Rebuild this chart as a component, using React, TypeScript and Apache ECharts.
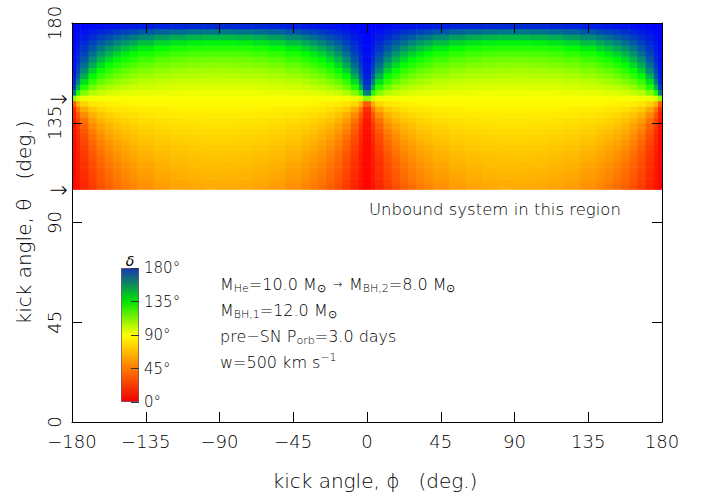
import React, { useEffect, useRef } from "react";
import * as echarts from "echarts";

// φ cell edges (deg) across the full axis (finer near φ = 0, ±180 where δ varies fast)
const phiEdges = [
  -180, -177.5, -175, -170, -165, -160, -155, -150, -145, -140, -130, -120, -110, -100, -90,
  -80, -70, -60, -50, -40, -35, -30, -25, -20, -15, -10, -5, -2.5,
  0, 2.5, 5, 10, 15, 20, 25, 30, 35, 40, 50, 60, 70, 80, 90,
  100, 110, 120, 130, 140, 145, 150, 155, 160, 165, 170, 175, 177.5, 180,
];
// the map is mirror-symmetric in |sin φ|: values read for these folded φ-cell centres
const phiFoldCentres = [1.25, 3.75, 7.5, 12.5, 17.5, 22.5, 27.5, 32.5, 37.5, 45, 55, 65, 75, 85];
// θ cell edges (deg): bound region only
const thetaEdges = [
  105, 107.5, 110, 112.5, 115, 117.5, 120, 122.5, 125, 127.5, 130, 132.5, 135, 137.5, 140, 142.5,
  145, 147.5, 150, 152.5, 155, 157.5, 160, 162.5, 165, 167.5, 170, 172.5, 175, 177.5, 180,
];
// δ (deg) per θ row (bottom → top), per folded φ column
const deltaRows = [
  [2.2, 6.5, 12.9, 20.8, 27.8, 33.9, 39.0, 43.3, 46.9, 51.1, 55.1, 57.8, 59.4, 60.2],
  [2.3, 7.0, 13.7, 22.1, 29.4, 35.6, 40.8, 45.2, 48.8, 52.8, 56.8, 59.4, 61.1, 61.8],
  [2.5, 7.5, 14.7, 23.5, 31.1, 37.5, 42.8, 47.2, 50.7, 54.8, 58.7, 61.2, 62.7, 63.4],
  [2.7, 8.0, 15.7, 25.0, 33.0, 39.5, 44.9, 49.2, 52.7, 56.7, 60.5, 62.9, 64.4, 65.1],
  [2.9, 8.7, 16.9, 26.8, 35.0, 41.7, 47.1, 51.4, 54.8, 58.8, 62.4, 64.7, 66.1, 66.7],
  [3.2, 9.4, 18.3, 28.7, 37.3, 44.1, 49.5, 53.7, 57.1, 60.8, 64.3, 66.5, 67.8, 68.4],
  [3.5, 10.3, 19.9, 31.0, 39.8, 46.7, 52.0, 56.2, 59.4, 63.0, 66.3, 68.3, 69.5, 70.1],
  [3.8, 11.3, 21.8, 33.5, 42.6, 49.5, 54.8, 58.7, 61.8, 65.2, 68.3, 70.2, 71.3, 71.9],
  [4.3, 12.6, 24.1, 36.5, 45.8, 52.6, 57.7, 61.5, 64.4, 67.5, 70.4, 72.1, 73.2, 73.6],
  [4.8, 14.2, 26.8, 40.0, 49.4, 56.0, 60.8, 64.4, 67.1, 70.0, 72.5, 74.1, 75.1, 75.5],
  [5.6, 16.3, 30.3, 44.1, 53.4, 59.8, 64.2, 67.5, 69.9, 72.5, 74.8, 76.2, 77.0, 77.4],
  [6.6, 19.2, 34.8, 49.1, 58.1, 63.9, 67.9, 70.8, 72.9, 75.1, 77.1, 78.3, 79.0, 79.3],
  [8.2, 23.4, 40.8, 55.0, 63.3, 68.4, 71.9, 74.3, 76.1, 77.9, 79.5, 80.5, 81.1, 81.4],
  [10.8, 29.8, 48.9, 62.2, 69.2, 73.4, 76.1, 78.0, 79.4, 80.8, 82.1, 82.8, 83.3, 83.5],
  [16.2, 41.0, 60.0, 70.8, 75.9, 78.9, 80.7, 82.0, 83.0, 83.9, 84.8, 85.3, 85.5, 85.7],
  [32.1, 62.0, 75.1, 80.9, 83.4, 84.8, 85.7, 86.3, 86.7, 87.2, 87.6, 87.8, 87.9, 88.0],
  [110.4, 97.1, 93.6, 92.1, 91.5, 91.2, 91.0, 90.9, 90.8, 90.7, 90.6, 90.5, 90.5, 90.5],
  [157.9, 129.4, 112.4, 104.0, 100.1, 98.0, 96.7, 95.7, 95.1, 94.4, 93.8, 93.4, 93.2, 93.1],
  [168.1, 147.7, 128.4, 115.5, 109.0, 105.1, 102.6, 100.9, 99.6, 98.3, 97.2, 96.5, 96.1, 95.9],
  [172.1, 157.5, 140.5, 126.1, 117.7, 112.4, 108.9, 106.4, 104.5, 102.6, 100.9, 99.9, 99.3, 99.0],
  [174.3, 163.4, 149.2, 135.4, 126.1, 119.8, 115.4, 112.2, 109.8, 107.2, 105.0, 103.6, 102.8, 102.4],
  [175.7, 167.3, 155.7, 143.2, 133.9, 127.1, 122.1, 118.3, 115.4, 112.3, 109.5, 107.7, 106.7, 106.2],
  [176.7, 170.1, 160.7, 149.9, 141.1, 134.3, 128.9, 124.8, 121.5, 117.8, 114.5, 112.4, 111.1, 110.5],
  [177.4, 172.2, 164.7, 155.5, 147.7, 141.2, 135.8, 131.5, 128.0, 123.9, 120.1, 117.7, 116.2, 115.5],
  [177.9, 173.9, 167.9, 160.4, 153.7, 147.8, 142.8, 138.5, 134.9, 130.7, 126.6, 123.8, 122.2, 121.4],
  [178.4, 175.3, 170.6, 164.7, 159.1, 154.1, 149.7, 145.7, 142.3, 138.1, 133.9, 131.0, 129.2, 128.4],
  [178.8, 176.5, 173.0, 168.5, 164.2, 160.2, 156.5, 153.2, 150.2, 146.3, 142.3, 139.5, 137.7, 136.8],
  [179.2, 177.6, 175.1, 172.0, 168.9, 166.0, 163.3, 160.7, 158.4, 155.3, 151.9, 149.4, 147.8, 147.0],
  [179.5, 178.6, 177.1, 175.3, 173.4, 171.7, 170.0, 168.4, 166.9, 164.9, 162.6, 160.9, 159.7, 159.1],
  [179.8, 179.5, 179.1, 178.4, 177.8, 177.2, 176.7, 176.1, 175.6, 174.9, 174.1, 173.5, 173.1, 172.8],
];
// θ of the critical (flip) line and the unbound limit, marked by arrows
const arrowThetas = [145.8, 105];
const colorStops = ["#ff0000", "#ff8000", "#ffff00", "#00ff00", "#0000ff"];
const annotationLines = [
  "{n|M}{s|He}{n|=10.0 M}{s|⊙}{a|  →  }{n|M}{s|BH,2}{n|=8.0 M}{s|⊙}",
  "{n|M}{s|BH,1}{n|=12.0 M}{s|⊙}",
  "{n|pre−SN P}{s|orb}{n|=3.0 days}",
  "{n|w=500 km s}{p|−1}",
];
const unboundText = "Unbound system in this region";

const FONT = "'DejaVu Sans', 'Liberation Sans', sans-serif";
const INK = "#000";

function buildCells() {
  const cells: number[][] = [];
  for (let i = 0; i < deltaRows.length; i++) {
    for (let j = 0; j < phiEdges.length - 1; j++) {
      const c = (phiEdges[j] + phiEdges[j + 1]) / 2;
      let f = Math.abs(c);
      if (f > 90) f = 180 - f;
      const k = phiFoldCentres.findIndex((v) => Math.abs(v - f) < 1e-6);
      cells.push([phiEdges[j], phiEdges[j + 1], thetaEdges[i], thetaEdges[i + 1], deltaRows[i][k]]);
    }
  }
  return cells;
}

const fmtSigned = (v: number) => (v < 0 ? "\u2212" + Math.abs(v) : String(v));

export default function App() {
  const ref = useRef<HTMLDivElement>(null);
  useEffect(() => {
    if (!ref.current) return;
    const chart = echarts.init(ref.current, undefined, { renderer: "svg" });
    const tickCommon = { show: true, inside: true, length: 10, lineStyle: { color: "#000", width: 1 } };
    const lineCommon = { show: true, onZero: false, lineStyle: { color: "#000", width: 1 } };
    const labelStyle = { fontFamily: FONT, fontSize: 18, color: INK, fontWeight: 300 as any };
    const titleStyle = { fontFamily: FONT, fontSize: 20, color: INK, fontWeight: 300 as any };
    const option: any = {
      animation: false,
      backgroundColor: "#fff",
      grid: [
        { left: 72, right: 40, top: 23, bottom: 73 },
        { left: 121, top: 268, width: 18, height: 134 },
      ],
      xAxis: [
        {
          type: "value", gridIndex: 0, min: -180, max: 180, interval: 45, position: "bottom", z: 5,
          axisLine: lineCommon, axisTick: tickCommon, splitLine: { show: false },
          axisLabel: { ...labelStyle, margin: 10, formatter: fmtSigned },
          name: "kick angle, ϕ\u00a0\u00a0\u00a0(deg.)", nameLocation: "middle", nameGap: 49,
          nameTextStyle: { ...titleStyle, padding: [0, 0, 0, 16] },
        },
        {
          type: "value", gridIndex: 0, min: -180, max: 180, interval: 45, position: "top", z: 5,
          axisLine: lineCommon, axisTick: tickCommon, axisLabel: { show: false }, splitLine: { show: false },
        },
        { type: "category", gridIndex: 1, data: [""], show: false },
      ],
      yAxis: [
        {
          type: "value", gridIndex: 0, min: 0, max: 180, interval: 45, position: "left", z: 5,
          axisLine: lineCommon, axisTick: tickCommon, splitLine: { show: false },
          axisLabel: { ...labelStyle, rotate: 90, margin: 9 },
          name: "kick angle, θ\u00a0\u00a0\u00a0(deg.)", nameLocation: "middle", nameGap: 38,
          nameTextStyle: titleStyle,
        },
        {
          type: "value", gridIndex: 0, min: 0, max: 180, interval: 45, position: "right", z: 5,
          axisLine: lineCommon, axisTick: tickCommon, axisLabel: { show: false }, splitLine: { show: false },
        },
        {
          type: "value", gridIndex: 1, min: 0, max: 180, interval: 45, position: "right", z: 5,
          axisLine: { show: false, onZero: false }, splitLine: { show: false },
          axisTick: { show: true, inside: true, length: 8, lineStyle: { color: "#333", width: 1 } },
          axisLabel: { fontFamily: FONT, fontSize: 15, color: INK, fontWeight: 300, margin: 5, formatter: "{value}°" },
        },
      ],
      visualMap: {
        type: "continuous", show: false, min: 0, max: 180, dimension: 4, seriesIndex: 0,
        inRange: { color: colorStops },
      },
      series: [
        {
          type: "custom", xAxisIndex: 0, yAxisIndex: 0, silent: true, clip: true,
          dimensions: ["phiLo", "phiHi", "thetaLo", "thetaHi", "delta"],
          encode: { x: [0, 1], y: [2, 3] },
          data: buildCells(),
          renderItem: (params: any, api: any) => {
            const p0 = api.coord([api.value(0), api.value(3)]);
            const p1 = api.coord([api.value(1), api.value(2)]);
            return {
              type: "rect",
              shape: { x: p0[0], y: p0[1], width: p1[0] - p0[0] + 0.6, height: p1[1] - p0[1] + 0.6 },
              style: { fill: api.visual("color") },
            };
          },
        },
        {
          type: "bar", xAxisIndex: 2, yAxisIndex: 2, silent: true, barWidth: "100%",
          data: [180],
          itemStyle: {
            color: new echarts.graphic.LinearGradient(0, 1, 0, 0, [
              { offset: 0, color: "#f00000" },
              { offset: 0.25, color: "#ff7a00" },
              { offset: 0.5, color: "#ffff00" },
              { offset: 0.75, color: "#00e600" },
              { offset: 1, color: "#1838b0" },
            ]),
            borderColor: "rgba(60,20,60,0.55)",
            borderWidth: 1,
          },
        },
      ],
    };
    chart.setOption(option);

    const arrows = arrowThetas.map((t, i) => {
      const p = chart.convertToPixel({ xAxisIndex: 0, yAxisIndex: 0 }, [-180, t]) as number[];
      return {
        type: "text", id: "arrow" + i, x: p[0] - 4, y: p[1],
        style: { text: "→", align: "right", verticalAlign: "middle", fontSize: 22, fontFamily: FONT, fontWeight: 300, fill: INK },
      };
    });
    const rich = {
      n: { fontSize: 16, fontFamily: FONT, fontWeight: 300, color: INK },
      a: { fontSize: 11, fontFamily: FONT, fontWeight: 300, color: INK },
      s: { fontSize: 11, fontFamily: FONT, fontWeight: 300, color: INK, padding: [9, 0, 0, 0] },
      p: { fontSize: 11, fontFamily: FONT, fontWeight: 300, color: INK, padding: [0, 0, 9, 0] },
    };
    const lineYs = [284, 310, 336, 362];
    const annot = annotationLines.map((t, i) => ({
      type: "text", id: "ann" + i, x: 220, y: lineYs[i],
      style: { text: t, rich, align: "left", verticalAlign: "middle", fontFamily: FONT, fontSize: 16, fill: INK },
    }));
    chart.setOption({
      graphic: [
        ...arrows,
        ...annot,
        {
          type: "text", id: "unbound", x: 369, y: 209,
          style: { text: unboundText, align: "left", verticalAlign: "middle", fontSize: 16.5, fontWeight: 300, fontFamily: FONT, fill: INK },
        },
        {
          type: "text", id: "deltaLabel", x: 130, y: 261,
          style: { text: "δ", align: "center", verticalAlign: "middle", fontSize: 14, fontStyle: "italic", fontWeight: 300, fontFamily: FONT, fill: INK },
        },
      ],
    });
    return () => chart.dispose();
  }, []);
  return <div ref={ref} style={{ position: "absolute", left: 0, top: 0, width: 702, height: 496 }} />;
}
